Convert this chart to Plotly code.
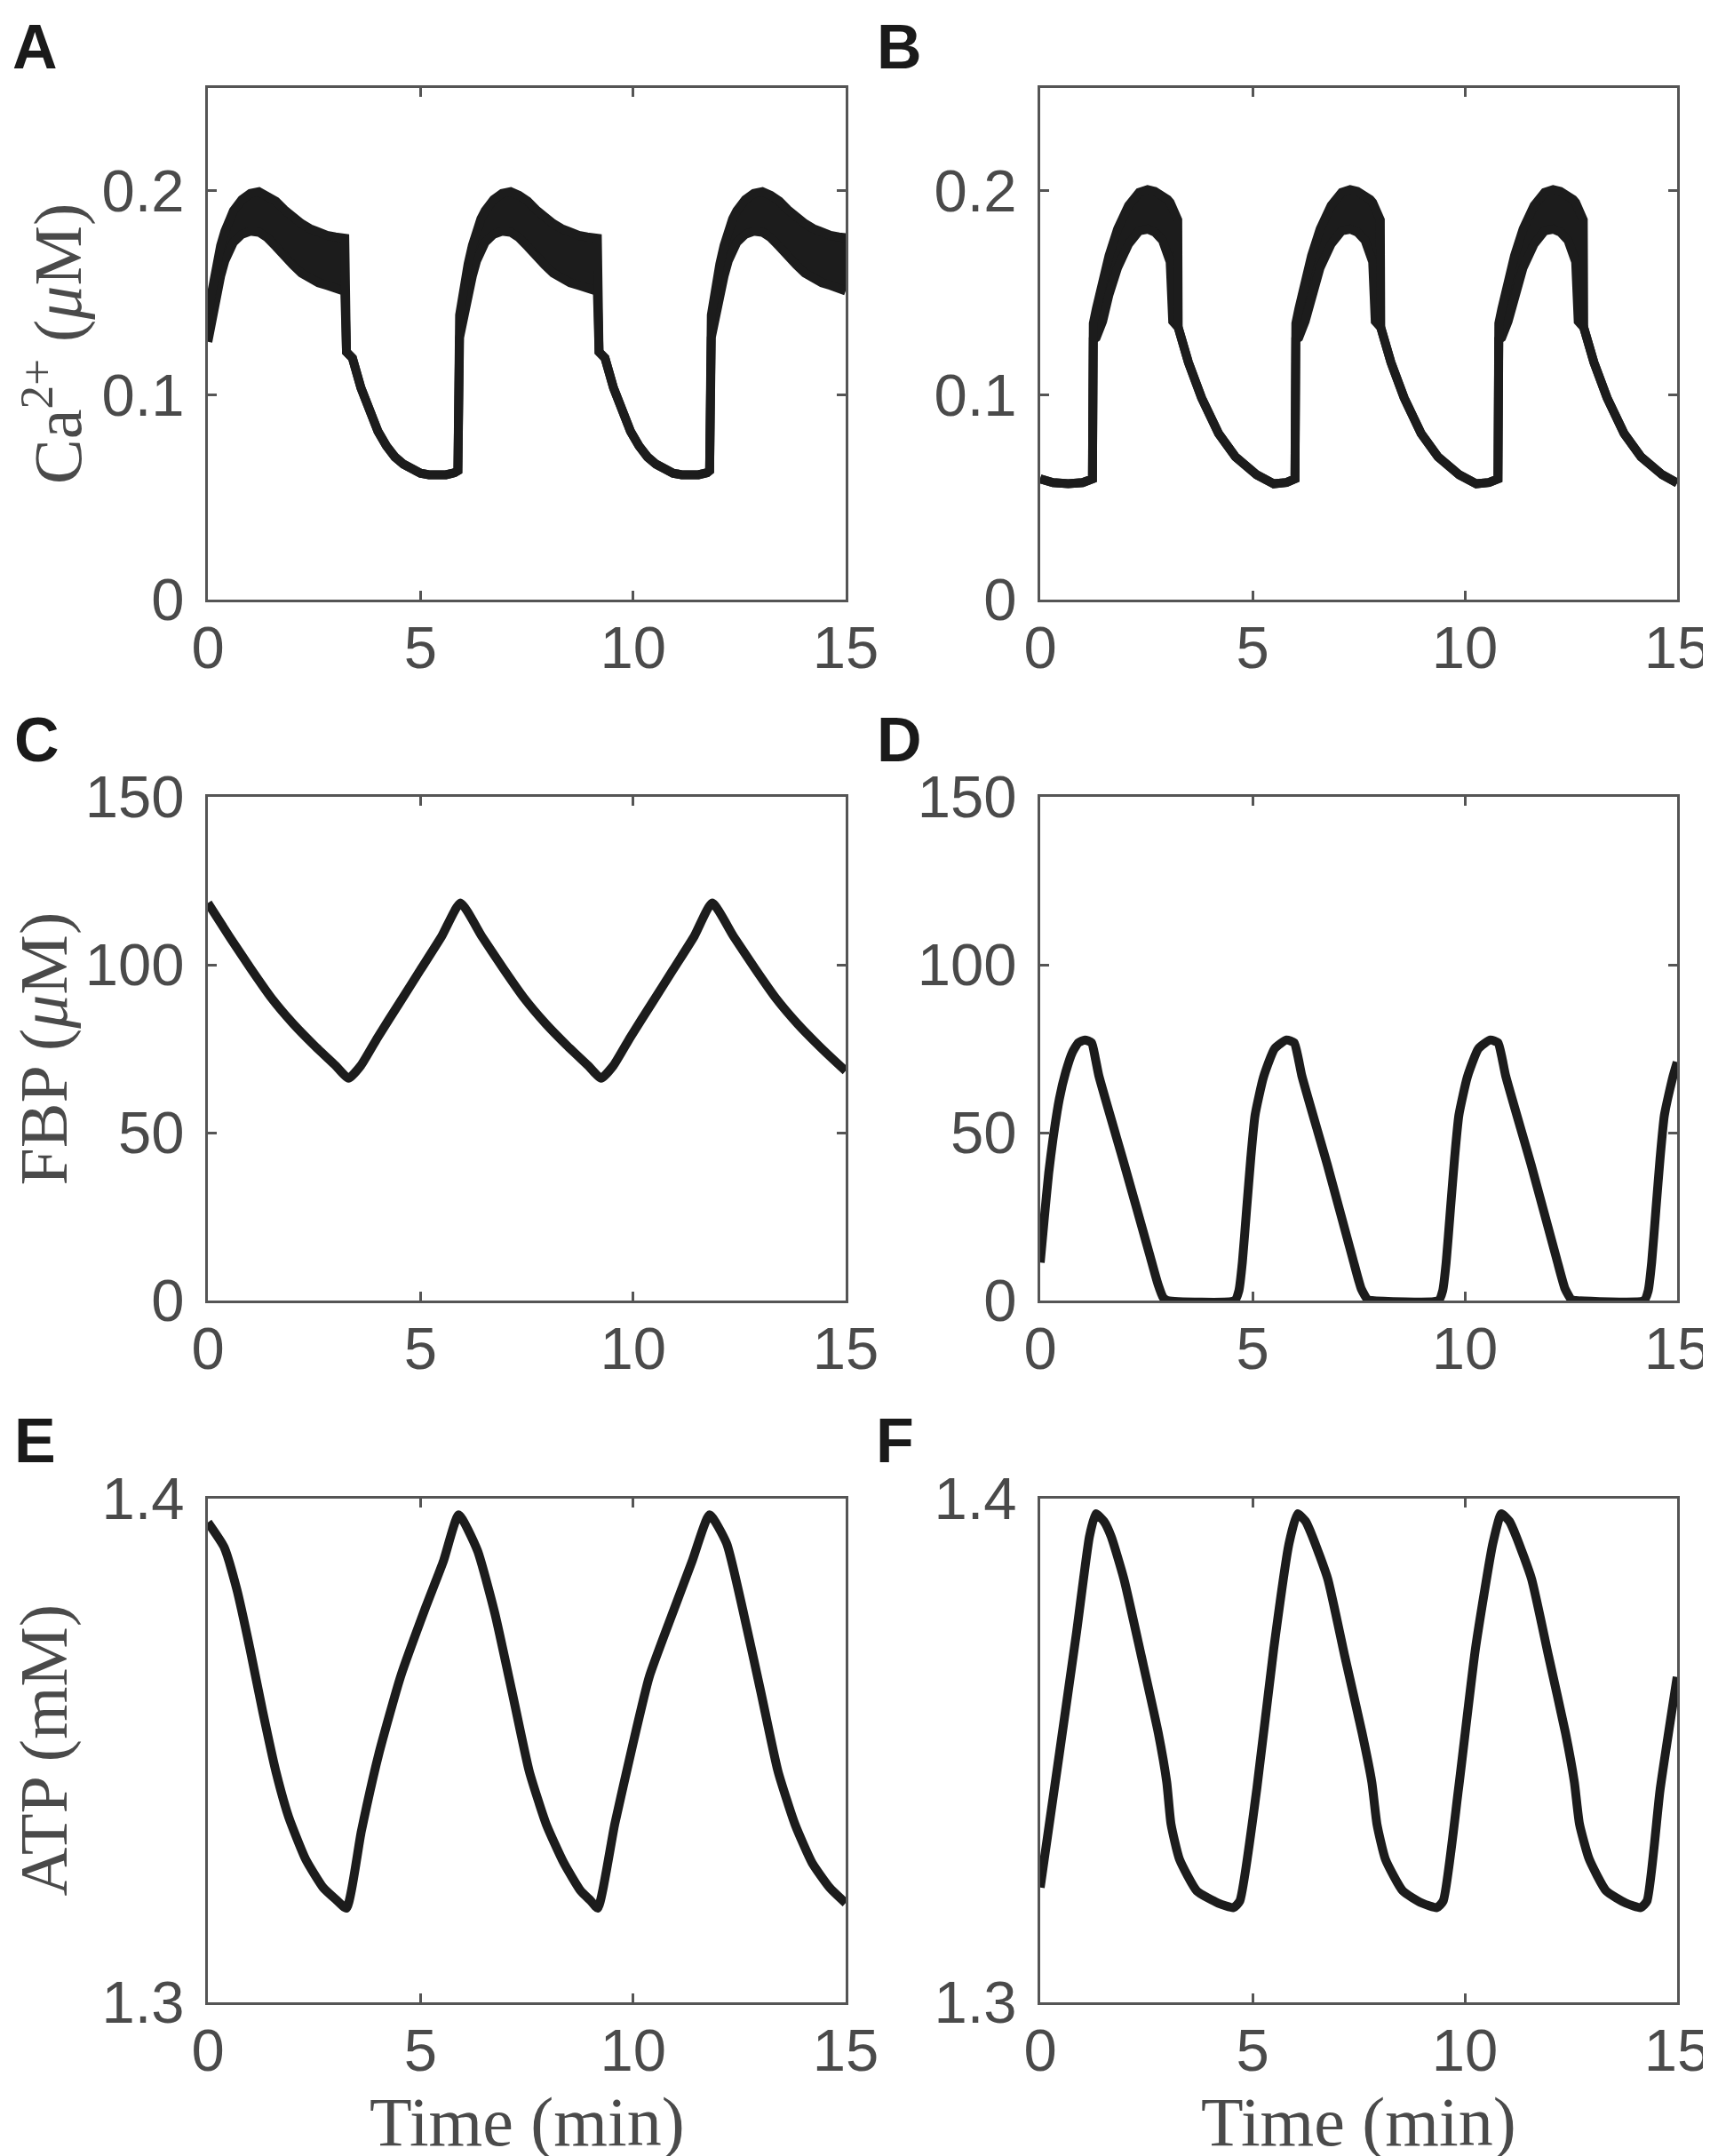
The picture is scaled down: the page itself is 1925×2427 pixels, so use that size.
import plotly.graph_objects as go
from plotly.subplots import make_subplots

# ---- data ----
# A: Ca2+ (uM), upper / lower envelope of the fast bursting band
A_time = [0.00, 0.10, 0.20, 0.30, 0.40, 0.50, 0.60, 0.80, 1.00, 1.20, 1.40, 1.60, 1.80, 2.00, 2.20, 2.40, 2.60, 2.80, 3.00, 3.22,
          3.26, 3.40, 3.60, 3.80, 4.00, 4.20, 4.40, 4.60, 4.80, 5.00, 5.20, 5.40, 5.60, 5.80, 5.88,
          5.92, 6.02, 6.12, 6.22, 6.32, 6.42, 6.52, 6.72, 6.92, 7.12, 7.32, 7.52, 7.72, 7.92, 8.12, 8.32, 8.52, 8.72, 8.92, 9.16,
          9.20, 9.34, 9.54, 9.74, 9.94, 10.14, 10.34, 10.54, 10.74, 10.94, 11.14, 11.34, 11.54, 11.74, 11.80,
          11.84, 11.94, 12.04, 12.14, 12.24, 12.34, 12.44, 12.64, 12.84, 13.04, 13.24, 13.44, 13.64, 13.84, 14.04, 14.24, 14.44, 14.64, 14.84, 15.00]
A_upper = [0.140, 0.152, 0.163, 0.173, 0.180, 0.186, 0.190, 0.1955, 0.1985, 0.1993, 0.1975, 0.1947, 0.1905, 0.1868, 0.1838, 0.1813, 0.1793, 0.1780, 0.1772, 0.1766,
           0.121, 0.118, 0.1035, 0.0918, 0.0822, 0.0751, 0.0697, 0.0662, 0.0634, 0.0618, 0.0610, 0.0608, 0.0610, 0.0620, 0.0630,
           0.139, 0.153, 0.164, 0.173, 0.180, 0.186, 0.190, 0.1955, 0.1985, 0.1993, 0.1975, 0.1947, 0.1905, 0.1868, 0.1838, 0.1813, 0.1793, 0.1780, 0.1772, 0.1766,
           0.121, 0.118, 0.1035, 0.0918, 0.0822, 0.0751, 0.0697, 0.0662, 0.0634, 0.0618, 0.0610, 0.0608, 0.0610, 0.0620, 0.0630,
           0.139, 0.153, 0.164, 0.173, 0.180, 0.186, 0.190, 0.1955, 0.1985, 0.1993, 0.1975, 0.1947, 0.1905, 0.1868, 0.1838, 0.1813, 0.1793, 0.1780, 0.1772, 0.1768]
A_lower = [0.126, 0.138, 0.149, 0.158, 0.1655, 0.170, 0.1745, 0.1785, 0.1800, 0.1795, 0.1768, 0.1725, 0.1675, 0.1635, 0.1595, 0.1565, 0.1548, 0.1535, 0.1520, 0.1506,
           0.121, 0.118, 0.1035, 0.0918, 0.0822, 0.0751, 0.0697, 0.0662, 0.0634, 0.0618, 0.0610, 0.0608, 0.0610, 0.0620, 0.0630,
           0.128, 0.139, 0.150, 0.158, 0.1655, 0.170, 0.1745, 0.1785, 0.1800, 0.1795, 0.1768, 0.1725, 0.1675, 0.1635, 0.1595, 0.1565, 0.1548, 0.1535, 0.1520, 0.1506,
           0.121, 0.118, 0.1035, 0.0918, 0.0822, 0.0751, 0.0697, 0.0662, 0.0634, 0.0618, 0.0610, 0.0608, 0.0610, 0.0620, 0.0630,
           0.128, 0.139, 0.150, 0.158, 0.1655, 0.170, 0.1745, 0.1785, 0.1800, 0.1795, 0.1768, 0.1725, 0.1675, 0.1635, 0.1595, 0.1565, 0.1548, 0.1535, 0.1520, 0.1508]

# B: Ca2+ (uM)
B_time = [0.00, 0.30, 0.66, 1.00, 1.23,
          1.25, 1.32, 1.47, 1.62, 1.82, 2.08, 2.33, 2.53, 2.70, 2.88, 3.00, 3.06, 3.12, 3.24,
          3.25, 3.49, 3.80, 4.20, 4.60, 5.10, 5.50, 5.80, 6.00,
          6.02, 6.09, 6.24, 6.39, 6.59, 6.85, 7.10, 7.30, 7.47, 7.65, 7.77, 7.83, 7.89, 8.01,
          8.02, 8.26, 8.57, 8.97, 9.37, 9.87, 10.27, 10.57, 10.78,
          10.80, 10.87, 11.02, 11.17, 11.37, 11.63, 11.88, 12.08, 12.25, 12.43, 12.55, 12.61, 12.67, 12.79,
          12.80, 13.04, 13.35, 13.75, 14.15, 14.65, 15.00]
B_upper = [0.0590, 0.0572, 0.0566, 0.0572, 0.0590,
           0.135, 0.142, 0.156, 0.168, 0.181, 0.1925, 0.1990, 0.2003, 0.1995, 0.1975, 0.1955, 0.1940, 0.1910, 0.1855,
           0.133, 0.1159, 0.0986, 0.0812, 0.0697, 0.0610, 0.0566, 0.0572, 0.0590,
           0.135, 0.142, 0.156, 0.168, 0.181, 0.1925, 0.1990, 0.2003, 0.1995, 0.1975, 0.1955, 0.1940, 0.1910, 0.1855,
           0.133, 0.1159, 0.0986, 0.0812, 0.0697, 0.0610, 0.0566, 0.0572, 0.0590,
           0.135, 0.142, 0.156, 0.168, 0.181, 0.1925, 0.1990, 0.2003, 0.1995, 0.1975, 0.1955, 0.1940, 0.1910, 0.1855,
           0.133, 0.1159, 0.0986, 0.0812, 0.0697, 0.0610, 0.0570]
B_lower = [0.0590, 0.0572, 0.0566, 0.0572, 0.0590,
           0.127, 0.128, 0.136, 0.149, 0.162, 0.1737, 0.1802, 0.1810, 0.1795, 0.1755, 0.1700, 0.1650, 0.1360, 0.1340,
           0.133, 0.1159, 0.0986, 0.0812, 0.0697, 0.0610, 0.0566, 0.0572, 0.0590,
           0.127, 0.128, 0.136, 0.149, 0.162, 0.1737, 0.1802, 0.1810, 0.1795, 0.1755, 0.1700, 0.1650, 0.1360, 0.1340,
           0.133, 0.1159, 0.0986, 0.0812, 0.0697, 0.0610, 0.0566, 0.0572, 0.0590,
           0.127, 0.128, 0.136, 0.149, 0.162, 0.1737, 0.1802, 0.1810, 0.1795, 0.1755, 0.1700, 0.1650, 0.1360, 0.1340,
           0.133, 0.1159, 0.0986, 0.0812, 0.0697, 0.0610, 0.0570]

# C: FBP (uM)
C_time = [0.00, 0.50, 1.00, 1.50, 2.00, 2.50, 3.00, 3.31, 3.60, 4.00, 4.50, 5.00, 5.50, 5.94,
          6.44, 6.94, 7.44, 7.94, 8.44, 8.94, 9.25, 9.54, 9.94, 10.44, 10.94, 11.44, 11.86,
          12.36, 12.86, 13.36, 13.86, 14.36, 14.86, 15.00]
C_fbp = [118.4, 108.5, 99.0, 90.0, 82.5, 76.0, 70.0, 66.2, 70.0, 78.5, 88.5, 98.5, 108.5, 118.4,
         108.5, 99.0, 90.0, 82.5, 76.0, 70.0, 66.2, 70.0, 78.5, 88.5, 98.5, 108.5, 118.4,
         108.5, 99.0, 90.0, 82.5, 76.0, 70.0, 68.4]

# D: FBP (uM)
D_time = [0.00, 0.10, 0.20, 0.30, 0.45, 0.60, 0.76, 0.90, 1.05, 1.21, 1.30, 1.38, 1.97, 2.57, 2.77, 2.90, 3.00,
          4.58, 4.68, 4.76, 4.86, 4.96, 5.06, 5.26, 5.52, 5.80, 5.98, 6.08, 6.16, 6.76, 7.36, 7.56, 7.71, 7.81,
          9.38, 9.48, 9.56, 9.66, 9.76, 9.86, 10.06, 10.32, 10.60, 10.78, 10.88, 10.96, 11.56, 12.16, 12.36, 12.51, 12.61,
          14.22, 14.32, 14.40, 14.50, 14.60, 14.70, 14.90, 15.00]
D_fbp = [11.3, 25.0, 38.0, 48.0, 60.0, 68.0, 74.0, 76.8, 77.6, 76.8, 72.0, 67.0, 41.0, 14.0, 5.0, 0.8, 0.0,
         0.0, 3.0, 11.3, 27.0, 42.6, 55.2, 66.6, 75.0, 77.6, 76.8, 72.0, 67.0, 40.5, 12.5, 3.5, 0.3, 0.0,
         0.0, 3.0, 11.3, 27.0, 42.6, 55.2, 66.6, 75.0, 77.6, 76.8, 72.0, 67.0, 40.5, 12.5, 3.5, 0.3, 0.0,
         0.0, 3.0, 11.3, 27.0, 42.6, 55.2, 66.6, 71.0]

# E: ATP (mM)
E_time = [0.00, 0.38, 0.68, 0.99, 1.29, 1.60, 1.90, 2.30, 2.71, 3.00, 3.26,
          3.61, 4.02, 4.53, 5.13, 5.54, 5.90,
          6.34, 6.75, 7.15, 7.56, 7.96, 8.37, 8.77, 9.00, 9.17,
          9.57, 9.98, 10.38, 10.99, 11.39, 11.80,
          12.20, 12.60, 13.00, 13.41, 13.81, 14.21, 14.62, 15.00]
E_atp = [1.3953, 1.3904, 1.3820, 1.3702, 1.3577, 1.3458, 1.3368, 1.3284, 1.3228, 1.3205, 1.3187,
         1.3340, 1.3493, 1.3646, 1.3786, 1.3876, 1.3968,
         1.3897, 1.3772, 1.3618, 1.3458, 1.3353, 1.3277, 1.3221, 1.3202, 1.3187,
         1.3354, 1.3507, 1.3646, 1.3786, 1.3876, 1.3968,
         1.3911, 1.3772, 1.3618, 1.3458, 1.3353, 1.3277, 1.3228, 1.3197]

# F: ATP (mM)
F_time = [0.00, 0.45, 0.86, 1.16, 1.31,
          1.50, 1.67, 1.97, 2.38, 2.78, 2.98, 3.08, 3.28, 3.69, 4.19, 4.55, 4.70,
          5.10, 5.50, 5.86, 6.06,
          6.25, 6.41, 6.77, 7.17, 7.58, 7.81, 7.93, 8.13, 8.54, 8.99, 9.34, 9.49,
          9.85, 10.25, 10.66, 10.86,
          11.05, 11.21, 11.57, 11.97, 12.37, 12.58, 12.70, 12.93, 13.33, 13.79, 14.14, 14.29,
          14.60, 15.00]
F_atp = [1.3228, 1.3493, 1.3737, 1.3925, 1.3970,
         1.3955, 1.3925, 1.3841, 1.3688, 1.3535, 1.3437, 1.3354, 1.3284, 1.3221, 1.3197, 1.3188, 1.3201,
         1.3423, 1.3702, 1.3911, 1.3970,
         1.3955, 1.3925, 1.3841, 1.3688, 1.3535, 1.3437, 1.3354, 1.3284, 1.3221, 1.3197, 1.3188, 1.3201,
         1.3423, 1.3702, 1.3911, 1.3970,
         1.3955, 1.3925, 1.3841, 1.3688, 1.3535, 1.3437, 1.3354, 1.3284, 1.3221, 1.3197, 1.3188, 1.3201,
         1.3423, 1.3646]

x_ticks = [0, 5, 10, 15]
ca_ticks = [0, 0.1, 0.2]
ca_labels = ['0', '0.1', '0.2']
fbp_ticks = [0, 50, 100, 150]
atp_ticks = [1.3, 1.4]
atp_labels = ['1.3', '1.4']

W, H = 1925, 2427
LINE = '#1c1c1c'
AX = '#555555'
TXT = '#4a4a4a'
LW = 10

fig = make_subplots(rows=3, cols=2)


def band(t, hi, lo, row, col):
    fig.add_trace(go.Scatter(x=t, y=lo, mode='lines', line=dict(color=LINE, width=LW),
                             showlegend=False), row=row, col=col)
    fig.add_trace(go.Scatter(x=t, y=hi, mode='lines', line=dict(color=LINE, width=LW),
                             fill='tonexty', fillcolor=LINE, showlegend=False), row=row, col=col)


def curve(t, y, row, col):
    fig.add_trace(go.Scatter(x=t, y=y, mode='lines',
                             line=dict(color=LINE, width=LW, shape='spline', smoothing=0.5),
                             showlegend=False), row=row, col=col)


band(A_time, A_upper, A_lower, 1, 1)
band(B_time, B_upper, B_lower, 1, 2)
curve(C_time, C_fbp, 2, 1)
curve(D_time, D_fbp, 2, 2)
curve(E_time, E_atp, 3, 1)
curve(F_time, F_atp, 3, 2)

# panel boxes, in pixels of the 1925x2427 page
cols_px = [(226, 944), (1163, 1880)]
rows_px = [(91, 667), (889, 1456), (1679, 2246)]

axis_style = dict(showline=True, linecolor=AX, linewidth=3, mirror='ticks', ticks='inside',
                  ticklen=10, tickwidth=3, tickcolor=AX, showgrid=False, zeroline=False,
                  automargin=False,
                  tickfont=dict(family='Liberation Sans', size=67, color=TXT))

yspecs = [([0, 0.25], ca_ticks, ca_labels), ([0, 150], fbp_ticks, [str(v) for v in fbp_ticks]),
          ([1.3, 1.4], atp_ticks, atp_labels)]

for r in range(3):
    for c in range(2):
        n = r * 2 + c + 1
        key = '' if n == 1 else str(n)
        x0, x1 = cols_px[c]
        y0, y1 = rows_px[r]
        rng, tv, tt = yspecs[r]
        fig.layout['xaxis' + key].update(domain=[x0 / W, x1 / W], range=[0, 15], tickvals=x_ticks,
                                         ticklabelstandoff=-6, **axis_style)
        fig.layout['yaxis' + key].update(domain=[1 - y1 / H, 1 - y0 / H], range=rng, tickvals=tv, ticktext=tt,
                                         ticklabelstandoff=10, **axis_style)

annotations = []
# panel letters
letters = [('A', 31, 45), ('B', 1004, 45), ('C', 33, 825), ('D', 1004, 825), ('E', 31, 1614), ('F', 1000, 1614)]
for s, px, py in letters:
    annotations.append(dict(text='<b>%s</b>' % s, x=px / W, y=1 - py / H, xref='paper', yref='paper',
                            xanchor='center', yanchor='middle', showarrow=False,
                            font=dict(family='Liberation Sans', size=70, color='#1a1a1a')))

# y-axis titles
ytitles = ['Ca<sup>2+</sup> (<i>μ</i>M)', 'FBP (<i>μ</i>M)', 'ATP (mM)']
ytitle_x = [52, 41, 41]
for r, t in enumerate(ytitles):
    y0, y1 = rows_px[r]
    annotations.append(dict(text=t, x=ytitle_x[r] / W, y=1 - (y0 + y1) / 2 / H, xref='paper', yref='paper',
                            xanchor='center', yanchor='middle', textangle=-90, showarrow=False,
                            font=dict(family='Liberation Serif', size=76, color=TXT)))

# x-axis titles
for c in range(2):
    x0, x1 = cols_px[c]
    annotations.append(dict(text='Time (min)', x=(x0 + x1) / 2 / W, y=1 - 2380 / H, xref='paper', yref='paper',
                            xanchor='center', yanchor='middle', showarrow=False,
                            font=dict(family='Liberation Serif', size=78, color=TXT)))

fig.update_layout(width=W, height=H, margin=dict(l=0, r=0, t=0, b=0),
                  plot_bgcolor='white', paper_bgcolor='white', annotations=annotations)

fig.write_html("out.html")
